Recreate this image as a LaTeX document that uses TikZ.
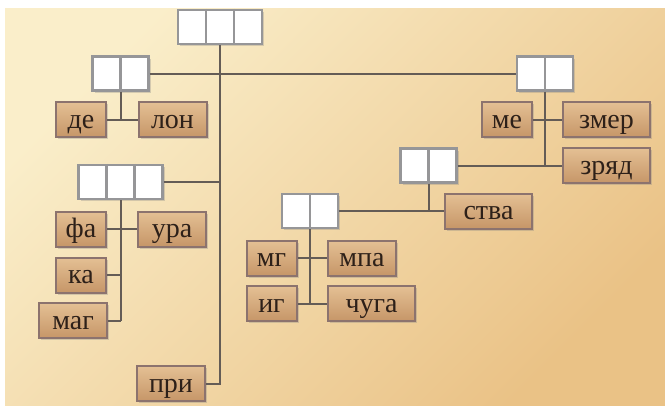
\documentclass[tikz,border=0pt]{standalone}
\usepackage{fontspec}
\setmainfont{Liberation Serif}
\usetikzlibrary{shadows}

\definecolor{parchA}{RGB}{250,238,202}
\definecolor{parchB}{RGB}{234,194,134}
\definecolor{sylTop}{RGB}{228,192,148}
\definecolor{sylBot}{RGB}{198,150,104}
\definecolor{sylLine}{RGB}{140,115,110}
\definecolor{wireCol}{RGB}{100,92,86}
\definecolor{cellLine}{RGB}{150,150,152}
\definecolor{sylText}{RGB}{45,32,25}

\tikzset{
  syl/.style={draw=sylLine, line width=1pt, top color=sylTop, bottom color=sylBot,
    minimum height=17.5pt, inner sep=0pt, text=sylText,
    text height=8.5pt, text depth=0pt,
    font=\fontsize{14}{16}\selectfont,
    drop shadow={opacity=.3, shadow xshift=1pt, shadow yshift=-1pt}},
  sylS/.style={syl, minimum width=25pt},
  sylM/.style={syl, minimum width=34pt},
  sylL/.style={syl, minimum width=43.5pt},
  wordbox/.style={draw=cellLine, line width=1.2pt, fill=white, minimum height=17pt,
    inner sep=0pt, drop shadow={opacity=.3, shadow xshift=1pt, shadow yshift=-1pt}},
  wordII/.style={wordbox, minimum width=28pt},
  wordIII/.style={wordbox, minimum width=42pt},
  wire/.style={draw=wireCol, line width=1pt}
}

\begin{document}
\begin{tikzpicture}[x=0.5pt,y=-0.5pt]
\useasboundingbox (0,0) rectangle (665,408);
\shade[top color=parchA, bottom color=parchB, shading angle=45] (5,8) rectangle (665,405);

% word blocks
\node[wordIII] (top) at (220,27) {};
\node[wordII] (wl) at (120.5,73.5) {};
\node[wordII] (wr) at (545,73.5) {};
\node[wordII] (wm) at (428.5,165.5) {};
\node[wordII] (wb) at (310,211) {};
\node[wordIII] (wf) at (120.5,182) {};
\foreach \n in {wl,wr,wm,wb}
  \draw[cellLine, line width=1.2pt] (\n.north) -- (\n.south);
\foreach \n in {top,wf}
  \foreach \s in {-7pt,7pt}
    \draw[cellLine, line width=1.2pt] ([xshift=\s]\n.north) -- ([xshift=\s]\n.south);

% syllables
\node[sylS] (de) at (81,119.5) {де};
\node[sylM] (lon) at (172.5,119.5) {лон};
\node[sylS] (me) at (507,119.5) {ме};
\node[sylL] (zmer) at (606.5,119.5) {змер};
\node[sylL] (zryad) at (606.5,165.5) {зряд};
\node[sylL] (stva) at (488.5,211) {ства};
\node[sylS] (mg) at (271.5,258) {мг};
\node[sylM] (mpa) at (362,258) {мпа};
\node[sylS] (ig) at (271.5,303.5) {иг};
\node[sylL] (chuga) at (371.5,303.5) {чуга};
\node[sylS] (fa) at (81,229) {фа};
\node[sylM] (ura) at (172,229) {ура};
\node[sylS] (ka) at (81,275) {ка};
\node[sylM] (mag) at (73,320.5) {маг};
\node[sylM] (pri) at (171,383.5) {при};

% wires
\draw[wire] (top.south) |- (pri.east);
\draw[wire] (wl.east) -- (wr.west);
\draw[wire] (wf.east) -- (wf.east -| top.south);
\draw[wire] (wl.south) -- (wl.south |- de.east);
\draw[wire] (de.east) -- (lon.west);
\draw[wire] (wr.south) -- (wr.south |- wm.east);
\draw[wire] (me.east) -- (zmer.west);
\draw[wire] (wm.east) -- (zryad.west);
\draw[wire] (wm.south) -- (wm.south |- stva.west);
\draw[wire] (wb.east) -- (stva.west);
\draw[wire] (wb.south) -- (wb.south |- ig.east);
\draw[wire] (mg.east) -- (mpa.west);
\draw[wire] (ig.east) -- (chuga.west);
\draw[wire] (wf.south) -- (wf.south |- mag.east);
\draw[wire] (fa.east) -- (ura.west);
\draw[wire] (ka.east) -- (ka.east -| wf.south);
\draw[wire] (mag.east) -- (mag.east -| wf.south);
\end{tikzpicture}
\end{document}
